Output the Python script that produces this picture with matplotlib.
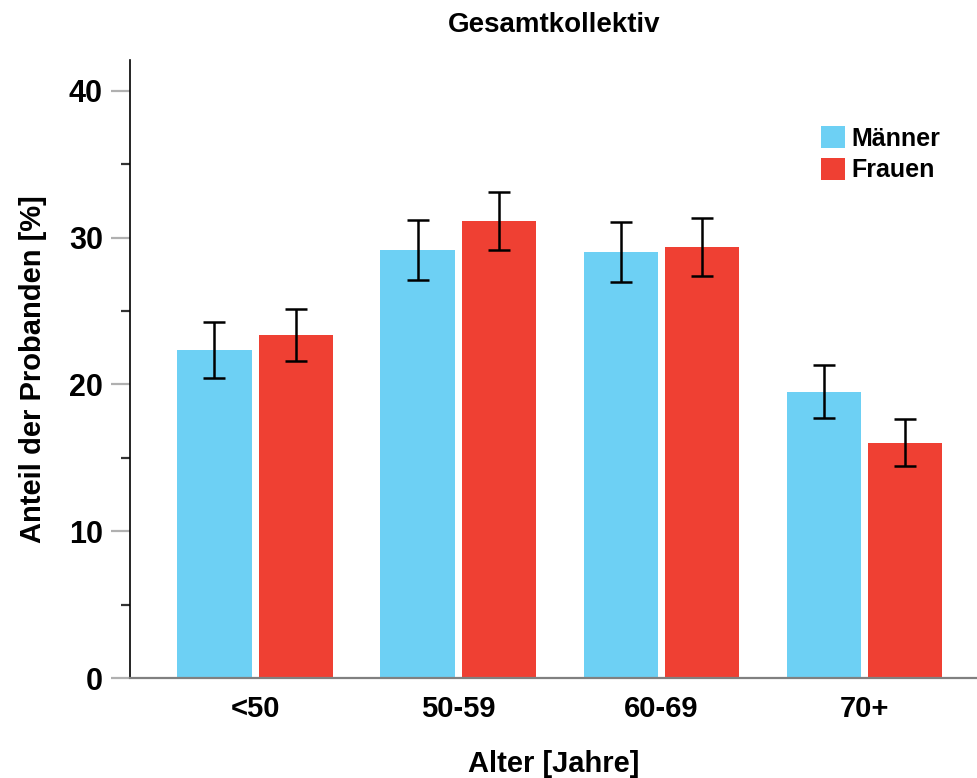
import numpy as np
import matplotlib.pyplot as plt
from matplotlib.ticker import MultipleLocator

plt.rcParams['font.family'] = ['Liberation Sans', 'DejaVu Sans']
plt.rcParams['font.weight'] = 'bold'

# data
groups = ['<50', '50-59', '60-69', '70+']
maenner = [22.35, 29.17, 29.03, 19.49]
maenner_err = [1.9, 2.05, 2.05, 1.8]
frauen = [23.37, 31.14, 29.37, 16.01]
frauen_err = [1.8, 2.0, 2.0, 1.6]

blue = '#6DD0F4'
red = '#EF4033'

fig = plt.figure(figsize=(9.78, 7.78), dpi=100)
ax = fig.add_axes([130/978, 1 - 678/778, 1 - 130/978, (678 - 60)/778])

x = np.arange(len(groups))
w = 0.365
off = 0.2
ax.bar(x - off, maenner, w, color=blue, label='Männer', zorder=2)
ax.bar(x + off, frauen, w, color=red, label='Frauen', zorder=2)
ax.errorbar(x - off, maenner, yerr=maenner_err, fmt='none', ecolor='black',
            elinewidth=1.8, capsize=7.8, capthick=1.8, zorder=3)
ax.errorbar(x + off, frauen, yerr=frauen_err, fmt='none', ecolor='black',
            elinewidth=1.8, capsize=7.8, capthick=1.8, zorder=3)

ax.set_xlim(-0.616, 3.56)
ax.set_ylim(0, 42.1)
ax.set_xticks(x)
ax.set_xticklabels(groups, fontsize=21, fontweight='bold')
ax.tick_params(axis='x', length=0, pad=12)

ax.yaxis.set_major_locator(MultipleLocator(10))
ax.yaxis.set_minor_locator(MultipleLocator(5))
ax.tick_params(axis='y', which='major', length=13.5, width=1.6, color='#b0b0b0',
               labelsize=22, pad=6)
ax.tick_params(axis='y', which='minor', length=6.5, width=1.6, color='#333333')
for lab in ax.get_yticklabels():
    lab.set_fontweight('bold')

ax.spines['top'].set_visible(False)
ax.spines['right'].set_visible(False)
ax.spines['left'].set_color('black')
ax.spines['left'].set_linewidth(1.2)
ax.spines['bottom'].set_color('#808080')
ax.spines['bottom'].set_linewidth(1.6)

ax.set_title('Gesamtkollektiv', fontsize=20, fontweight='bold', pad=20)
ax.set_xlabel('Alter [Jahre]', fontsize=21, fontweight='bold', labelpad=20)
ax.set_ylabel('Anteil der Probanden [%]', fontsize=21, fontweight='bold', labelpad=16)

leg = ax.legend(loc='upper right', bbox_to_anchor=(0.955, 0.893), frameon=False,
                fontsize=18, handlelength=0.95, handleheight=0.95,
                handletextpad=0.25, labelspacing=0.3, borderaxespad=0,
                borderpad=0)
for t in leg.get_texts():
    t.set_fontweight('bold')

fig.savefig('out.png', dpi=100)
